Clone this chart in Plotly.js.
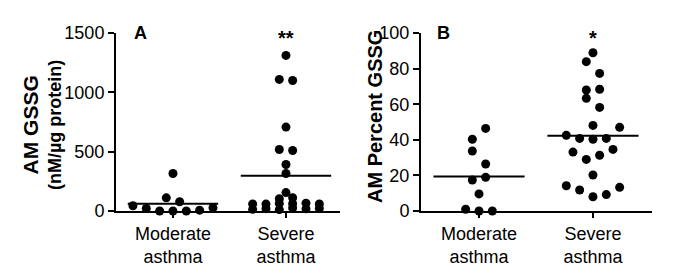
<!DOCTYPE html>
<html>
<head>
<meta charset="utf-8">
<script src="https://cdn.plot.ly/plotly-3.0.1.min.js"></script>
<style>html,body{margin:0;padding:0;background:#fff}#chart{width:675px;height:279px}</style>
</head>
<body>
<div id="chart"></div>
<script>
// ---- data ----
const categories = ['Moderate<br>asthma', 'Severe<br>asthma'];
const gssgModerate = [44, 21, 0, 0, 0, 7, 27, 111, 78, 316];
const gssgSevere = [14, 20, 12, 25, 18, 22, 60, 58, 64, 62, 66, 59, 104, 112, 155, 316, 392, 518, 510, 707, 1109, 1100, 1311];
const pctModerate = [1, 0, 0, 9.6, 17.4, 18.9, 33.7, 26.4, 40.3, 46.4];
const pctSevere = [14.2, 11.8, 8, 9.2, 13.3, 20.2, 33.1, 29, 31.3, 34.6, 42.5, 40.8, 40.3, 40.8, 47, 48.1, 63.3, 58.2, 68, 68.4, 83.9, 77.3, 88.9];
const yTicksA = [0, 500, 1000, 1500];
const yTicksB = [0, 20, 40, 60, 80, 100];
const starsA = '**';
const starsB = '*';

// ---- column scatter layout (rows of points spread symmetrically) ----
function swarm(values, center, rowH, step) {
  const idx = values.map((v, i) => i).sort((a, b) => values[a] - values[b] || a - b);
  const xs = new Array(values.length);
  let i = 0;
  while (i < idx.length) {
    const start = values[idx[i]];
    const row = [];
    while (i < idx.length && values[idx[i]] < start + rowH) { row.push(idx[i]); i++; }
    row.sort((a, b) => a - b);
    const n = row.length;
    row.forEach((k, j) => { xs[k] = center + (j - (n - 1) / 2) * step; });
  }
  return xs;
}
const mean = a => a.reduce((s, v) => s + v, 0) / a.length;

const dot = {color: '#000', size: 9};
const halfW = 0.4;
function group(values, center, rowH, step, xa, ya) {
  const m = mean(values);
  return [
    {type: 'scatter', mode: 'markers', x: swarm(values, center, rowH, step), y: values,
     marker: dot, xaxis: xa, yaxis: ya, cliponaxis: false, hoverinfo: 'y'},
    {type: 'scatter', mode: 'lines', x: [center - halfW, center + halfW], y: [m, m],
     line: {color: '#000', width: 2}, xaxis: xa, yaxis: ya, cliponaxis: false, hoverinfo: 'skip'}
  ];
}

const data = [
  ...group(gssgModerate, 0, 45, 0.118, 'x', 'y'),
  ...group(gssgSevere, 1, 45, 0.118, 'x', 'y'),
  ...group(pctModerate, 0, 7.55, 0.117, 'x2', 'y2'),
  ...group(pctSevere, 1, 7.55, 0.117, 'x2', 'y2')
];

const font = {family: '"Liberation Sans", Arial, Helvetica, sans-serif', color: '#000'};
const yDom = [68 / 279, 246 / 279];
const xCommon = {
  tickvals: [0, 1], ticktext: categories, showgrid: false, zeroline: false,
  showline: true, linecolor: '#000', linewidth: 2, ticks: 'outside', ticklen: 5, tickwidth: 2,
  tickcolor: '#000', tickfont: Object.assign({size: 18}, font), fixedrange: true
};
const yCommon = {
  showgrid: false, zeroline: false, showline: true, linecolor: '#000', linewidth: 2,
  ticks: 'outside', ticklen: 6, tickwidth: 2, tickcolor: '#000',
  tickfont: Object.assign({size: 18}, font), domain: yDom, fixedrange: true
};

const layout = {
  width: 675, height: 279,
  margin: {l: 0, r: 0, t: 0, b: 0},
  paper_bgcolor: '#fff', plot_bgcolor: '#fff',
  showlegend: false,
  font: font,
  xaxis: Object.assign({}, xCommon, {domain: [116 / 675, 340 / 675], range: [-0.504, 1.478], anchor: 'y'}),
  yaxis: Object.assign({}, yCommon, {range: [0, 1500], tickvals: yTicksA, anchor: 'x'}),
  xaxis2: Object.assign({}, xCommon, {domain: [421 / 675, 652 / 675], range: [-0.509, 1.518], anchor: 'y2'}),
  yaxis2: Object.assign({}, yCommon, {range: [0, 100], tickvals: yTicksB, anchor: 'x2'}),
  annotations: [
    {text: '<b><span style="font-size:21px">AM GSSG</span></b><br><b>(nM/µg protein)</b>', textangle: -90,
     xref: 'paper', yref: 'paper',
     x: 42 / 675, y: (279 - 125) / 279, xanchor: 'center', yanchor: 'middle', showarrow: false,
     font: Object.assign({size: 18}, font)},
    {text: '<b>AM Percent GSSG</b>', textangle: -90, xref: 'paper', yref: 'paper',
     x: 375 / 675, y: (279 - 117) / 279, xanchor: 'center', yanchor: 'middle', showarrow: false,
     font: Object.assign({size: 20}, font)},
    {text: '<b>A</b>', xref: 'paper', yref: 'paper', x: 140 / 675, y: (279 - 33) / 279,
     xanchor: 'center', yanchor: 'middle', showarrow: false, font: Object.assign({size: 18}, font)},
    {text: '<b>B</b>', xref: 'paper', yref: 'paper', x: 443 / 675, y: (279 - 33) / 279,
     xanchor: 'center', yanchor: 'middle', showarrow: false, font: Object.assign({size: 18}, font)},
    {text: '<b>' + starsA + '</b>', xref: 'x', yref: 'paper', x: 1, y: (279 - 38) / 279,
     xanchor: 'center', yanchor: 'middle', showarrow: false, font: Object.assign({size: 20}, font)},
    {text: '<b>' + starsB + '</b>', xref: 'x2', yref: 'paper', x: 1, y: (279 - 38) / 279,
     xanchor: 'center', yanchor: 'middle', showarrow: false, font: Object.assign({size: 20}, font)}
  ]
};

Plotly.newPlot('chart', data, layout, {staticPlot: true, displayModeBar: false});
</script>
</body>
</html>
